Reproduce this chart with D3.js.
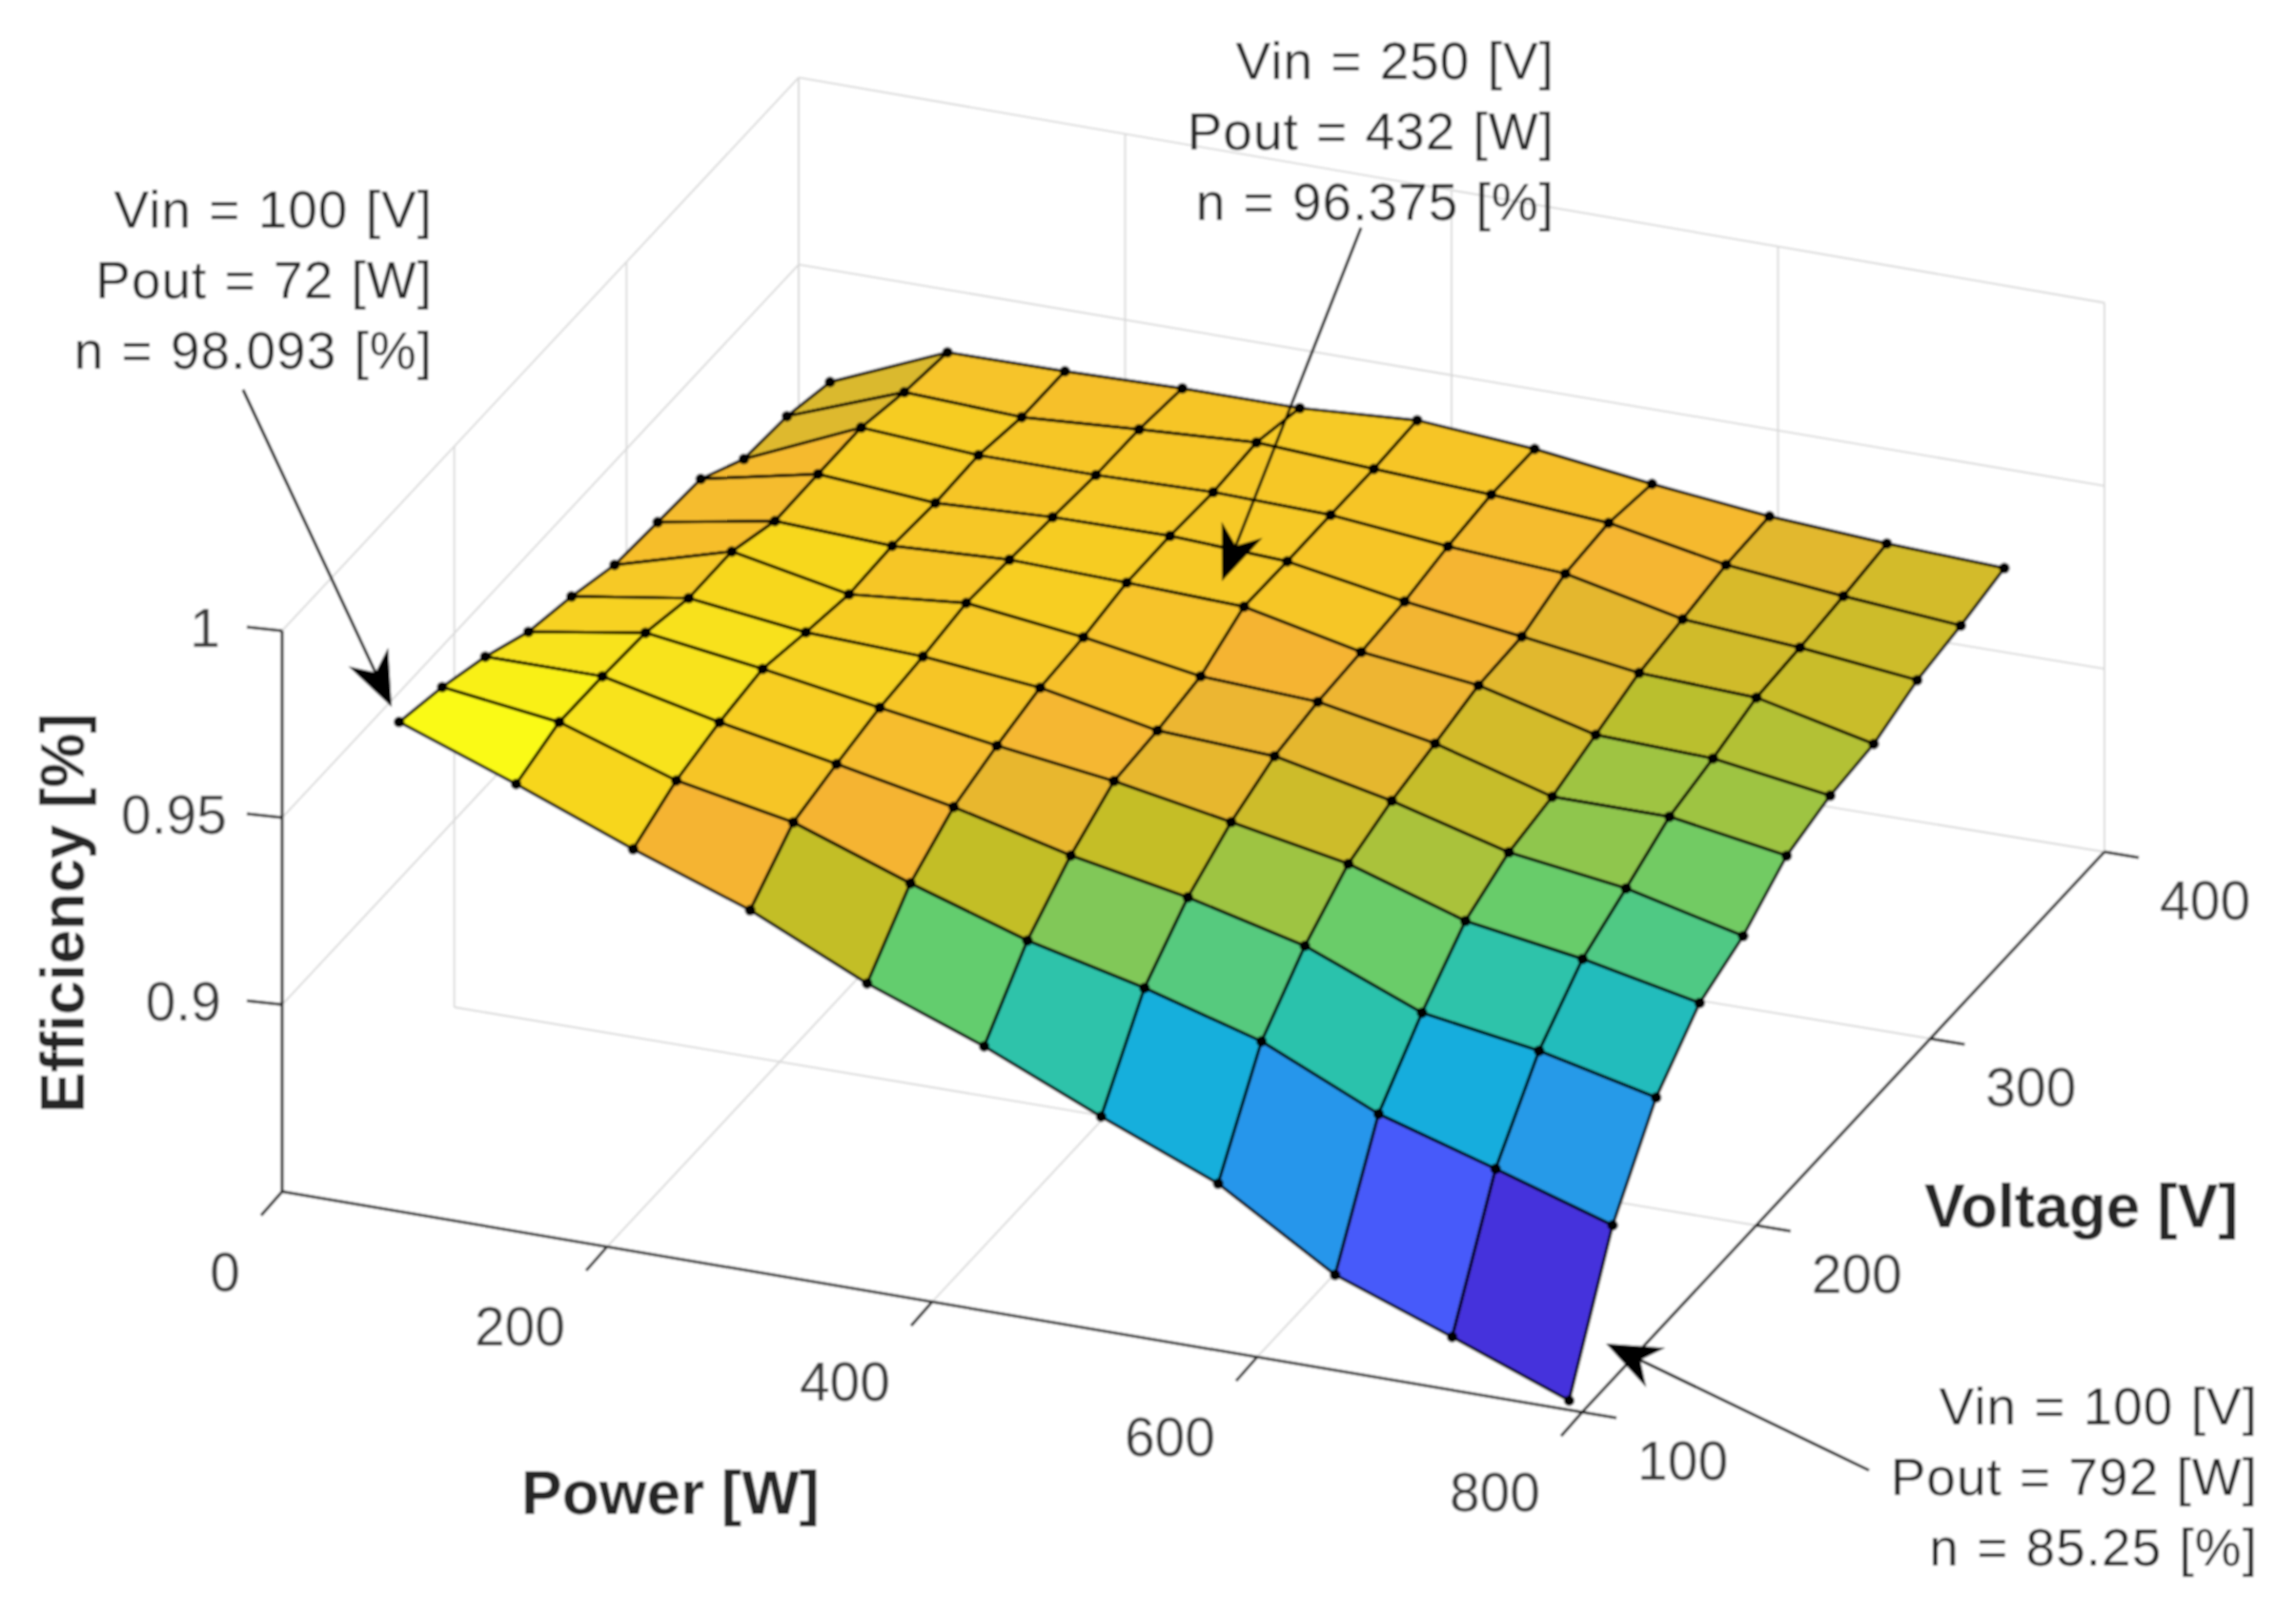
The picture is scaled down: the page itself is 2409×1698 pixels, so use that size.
<!DOCTYPE html>
<html>
<head>
<meta charset="utf-8">
<script src="https://cdn.jsdelivr.net/npm/d3@7/dist/d3.min.js"></script>
<style>
html,body{margin:0;padding:0;background:#fff}
svg{display:block}
text{font-family:"Liberation Sans",Arial,sans-serif}
.tick{font-size:57px;fill:#3a3a3a}
.lab{font-size:64px;font-weight:bold;fill:#262626}
.note{font-size:55px;fill:#262626;letter-spacing:1px;word-spacing:2px;text-anchor:end}
</style>
</head>
<body>
<script>
// ---- data ----
const powerValues = [72,144,216,288,360,432,504,576,648,720,792];
const voltageValues = [100,125,150,175,200,225,250,275,300,325,350];
const effP72  = [.9809,.9779,.9737,.9680,.9651,.9612,.9603,.9595,.9525,.9516,.9484];
const effP144 = [.9696,.9738,.9737,.9730,.9699,.9700,.9658,.9660,.9661,.9632,.9615];
const effP216 = [.9575,.9635,.9667,.9686,.9660,.9638,.9644,.9635,.9639,.9617,.9616];
const effP288 = [.9465,.9576,.9608,.9635,.9648,.9667,.9659,.9649,.9638,.9636,.9622];
const effP360 = [.9322,.9466,.9546,.9586,.9617,.9628,.9650,.9651,.9644,.9653,.9621];
const effP432 = [.9207,.9366,.9469,.9544,.9555,.9576,.9638,.9635,.9635,.9634,.9640];
const effP504 = [.9072,.9292,.9410,.9487,.9539,.9560,.9569,.9580,.9603,.9617,.9615];
const effP576 = [.8946,.9202,.9333,.9428,.9472,.9501,.9532,.9538,.9582,.9593,.9573];
const effP648 = [.8755,.9061,.9207,.9328,.9387,.9411,.9452,.9493,.9512,.9533,.9538];
const effP720 = [.8642,.8967,.9158,.9279,.9343,.9410,.9441,.9479,.9488,.9501,.9517];
const effP792 = [.8525,.8869,.9086,.9214,.9268,.9358,.9394,.9407,.9453,.9474,.9503];
const effRows = [effP72,effP144,effP216,effP288,effP360,effP432,effP504,effP576,effP648,effP720,effP792];

const powerTicks = [0,200,400,600,800];
const voltageTicks = [100,200,300,400];
const effTicks = [0.9,0.95,1];
const effTickLabels = ["0.9","0.95","1"];
const effTickRight = [232,238,231];

const colorEff = [.8525,.8642,.8755,.8946,.9072,.9207,.9322,.9465,.9575,.9696,.9809];
const colorHex = ["#4630d8","#4432dc","#465afa","#2896eb","#14afdc","#2dc3aa","#64cd6e","#c3be28","#f5b432","#f7d61e","#fafa14"];

const notes = [
  {lines:["Vin = 100 [V]","Pout = 72 [W]","n = 98.093 [%]"]},
  {lines:["Vin = 250 [V]","Pout = 432 [W]","n = 96.375 [%]"]},
  {lines:["Vin = 100 [V]","Pout = 792 [W]","n = 85.25 [%]"]}
];

// ---- layout ----
const W = 2409, H = 1698;
const A = {x:296,y:1250.5}, B = {x:1660,y:1482}, C = {x:2208,y:894}, D = {x:838,y:670};
const pxPerEff = 3924;

const uScale = d3.scaleLinear().domain([0,800]).range([0,1]);
const vScale = d3.scaleLinear().domain([100,400]).range([0,1]);
const zOff = d3.scaleLinear().domain([.85,1]).range([0,.15*pxPerEff]);
const colour = d3.scaleLinear().domain(colorEff).range(colorHex).clamp(true);

function project(P,V,z,wall){
  const u = uScale(P), v = vScale(V);
  const x = d3.interpolateNumber(
    d3.interpolateNumber(A.x,B.x)(u),
    d3.interpolateNumber(D.x,C.x)(u))(v);
  const y = d3.interpolateNumber(
    d3.interpolateNumber(A.y,B.y)(u),
    d3.interpolateNumber(D.y,C.y)(u))(v);
  const k = wall ? 1 - 0.021*u*v : 1;   // far walls shrink slightly
  return [x, y - zOff(z)*k];
}

const svg = d3.select("body").append("svg").attr("width",W).attr("height",H).attr("viewBox",[0,0,W,H]);
const defs = svg.append("defs");
defs.append("filter").attr("id","soft").attr("filterUnits","userSpaceOnUse")
  .attr("x",0).attr("y",0).attr("width",W).attr("height",H)
  .append("feGaussianBlur").attr("stdDeviation",0.9);
const root = svg.append("g").attr("filter","url(#soft)");
root.append("rect").attr("width",W).attr("height",H).attr("fill","#fff");

// ---- grid on the three back planes ----
const gridSegs = [];
const zb = .85, zt = 1;
powerTicks.forEach(p=>{
  if(p>0) gridSegs.push([project(p,100,zb),project(p,400,zb)]);
  gridSegs.push([project(p,400,zb),project(p,400,zt,true)]);
});
voltageTicks.forEach(v=>{
  if(v>100) gridSegs.push([project(0,v,zb),project(800,v,zb)]);
  gridSegs.push([project(0,v,zb),project(0,v,zt,true)]);
});
effTicks.forEach(z=>{
  gridSegs.push([project(0,100,z,true),project(0,400,z,true)]);
  gridSegs.push([project(0,400,z,true),project(800,400,z,true)]);
});
root.append("g").selectAll("line").data(gridSegs).join("line")
  .attr("x1",d=>d[0][0]).attr("y1",d=>d[0][1]).attr("x2",d=>d[1][0]).attr("y2",d=>d[1][1])
  .attr("stroke","#d8d8d8").attr("stroke-width",1.8);

// ---- axes ----
const axisSegs = [
  [project(0,100,zb),project(800,100,zb)],
  [project(800,100,zb),project(800,400,zb)],
  [project(0,100,zb),project(0,100,zt)]
];
powerTicks.forEach(p=>{const a=project(p,100,zb);axisSegs.push([a,[a[0]-22,a[1]+25]]);});
voltageTicks.forEach(v=>{const a=project(800,v,zb);axisSegs.push([a,[a[0]+36,a[1]+6]]);});
effTicks.forEach(z=>{const a=project(0,100,z);axisSegs.push([a,[a[0]-37,a[1]-4]]);});
root.append("g").selectAll("line").data(axisSegs).join("line")
  .attr("x1",d=>d[0][0]).attr("y1",d=>d[0][1]).attr("x2",d=>d[1][0]).attr("y2",d=>d[1][1])
  .attr("stroke","#222").attr("stroke-width",3);

root.append("g").selectAll("text").data(powerTicks).join("text").attr("class","tick")
  .attr("text-anchor","end")
  .attr("x",p=>project(p,100,zb)[0]-44).attr("y",p=>project(p,100,zb)[1]+104).text(p=>p);
root.append("g").selectAll("text").data(voltageTicks).join("text").attr("class","tick")
  .attr("x",v=>project(800,v,zb)[0]+58).attr("y",v=>project(800,v,zb)[1]+71).text(v=>v);
root.append("g").selectAll("text").data(effTicks).join("text").attr("class","tick")
  .attr("text-anchor","end")
  .attr("x",(z,i)=>effTickRight[i]).attr("y",z=>project(0,100,z)[1]+17).text((z,i)=>effTickLabels[i]);

root.append("text").attr("class","lab").attr("x",547).attr("y",1589).text("Power [W]");
root.append("text").attr("class","lab").attr("x",2019).attr("y",1288).text("Voltage [V]");
root.append("text").attr("class","lab").attr("transform","translate(88,1168) rotate(-90)").text("Efficiency [%]");

// ---- surface, painted from the far side to the near side ----
const cells = [];
for(let j=voltageValues.length-2;j>=0;j--){
  for(let i=0;i<powerValues.length-1;i++){
    cells.push({i,j});
  }
}
const pt = (i,j)=>project(powerValues[i],voltageValues[j],effRows[i][j]);
root.append("g").selectAll("path").data(cells).join("path")
  .attr("d",({i,j})=>"M"+[pt(i,j),pt(i+1,j),pt(i+1,j+1),pt(i,j+1)].map(p=>p.join(",")).join("L")+"Z")
  .attr("fill",({i,j})=>colour(effRows[i][j]))
  .attr("stroke","#000").attr("stroke-width",3.2).attr("stroke-linejoin","round");

const verts = [];
powerValues.forEach((p,i)=>voltageValues.forEach((v,j)=>verts.push([i,j])));
root.append("g").selectAll("circle").data(verts).join("circle")
  .attr("cx",d=>pt(d[0],d[1])[0]).attr("cy",d=>pt(d[0],d[1])[1]).attr("r",5.6).attr("fill","#000");

// ---- annotations ----
const arrows = [
  {from:[255,409],to:[411,742]},
  {from:[1428,239],to:[1282,610]},
  {from:[1961,1543],to:[1685,1410]}
];
const headLen=58, headW=23, notch=40;
const arr = root.append("g");
arrows.forEach(a=>{
  const ang=Math.atan2(a.to[1]-a.from[1],a.to[0]-a.from[0]);
  const c=Math.cos(ang), s=Math.sin(ang);
  const loc=(l,w)=>[a.to[0]-l*c-w*s, a.to[1]-l*s+w*c];
  arr.append("line").attr("x1",a.from[0]).attr("y1",a.from[1])
    .attr("x2",loc(notch,0)[0]).attr("y2",loc(notch,0)[1])
    .attr("stroke","#000").attr("stroke-width",3);
  arr.append("path").attr("fill","#000")
    .attr("d","M"+[a.to,loc(headLen,headW),loc(notch,0),loc(headLen,-headW)].map(p=>p.join(",")).join("L")+"Z");
});

const noteBoxes = [
  {x:454,y:239},{x:1631,y:83},{x:2369,y:1495}
];
notes.forEach((n,k)=>{
  root.append("g").selectAll("text").data(n.lines).join("text").attr("class","note")
    .attr("x",noteBoxes[k].x).attr("y",(d,i)=>noteBoxes[k].y+i*74).text(d=>d);
});
</script>
</body>
</html>
